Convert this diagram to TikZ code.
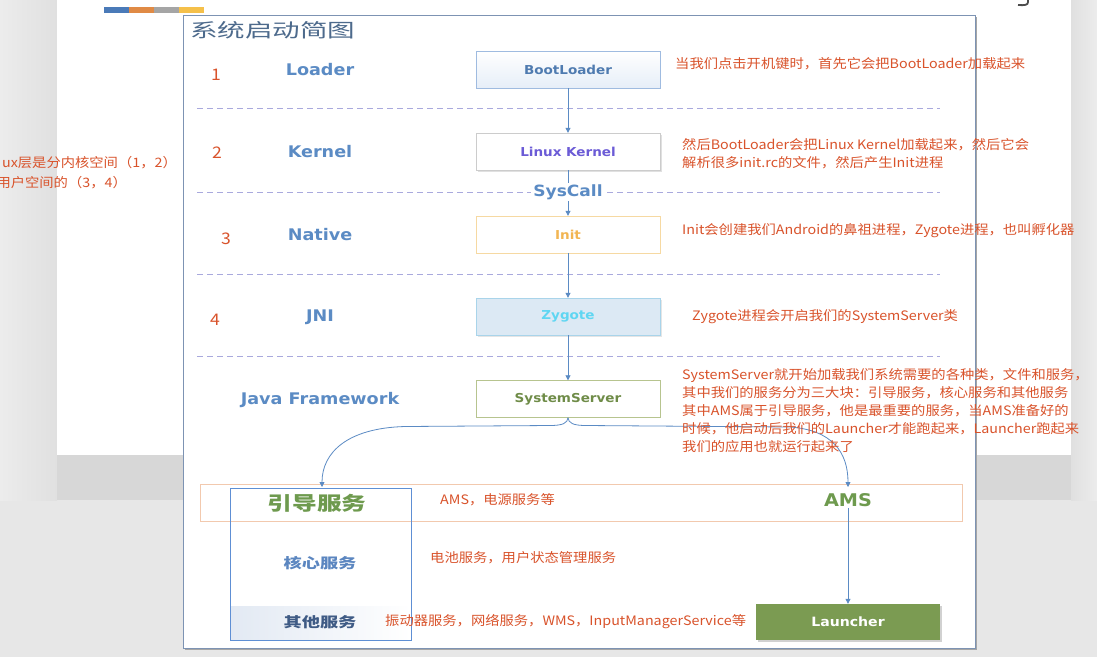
\documentclass[tikz,border=0pt]{standalone}
\usepackage{fontspec}
\setmainfont{Noto Sans CJK SC}[FakeStretch=1.1]
\newfontfamily\titlefont[FakeStretch=1.45]{Noto Sans CJK SC}
\newfontfamily\widecjk[FakeStretch=1.3]{Noto Sans CJK SC}
\newfontfamily\labfont[FakeStretch=1.1]{DejaVu Sans}
\usetikzlibrary{arrows.meta,calc}
\definecolor{redtxt}{HTML}{D9532B}
\definecolor{labblue}{HTML}{5B8BC4}
\definecolor{dashcol}{HTML}{A9A9DD}
\definecolor{framecol}{HTML}{7D93B3}
\definecolor{bggray}{HTML}{E7E7E7}
\definecolor{bgleft}{HTML}{ECECEC}
\definecolor{bgshadow}{HTML}{E0E0E0}
\definecolor{bandgray}{HTML}{D7D7D7}
\definecolor{titlecol}{HTML}{4D6A8C}
\definecolor{greentxt}{HTML}{6E9A4E}
\definecolor{launchgreen}{HTML}{7B9B52}
\definecolor{stripeA}{HTML}{4A7AB8}
\definecolor{stripeB}{HTML}{E08A45}
\definecolor{stripeC}{HTML}{A5A5A5}
\definecolor{stripeD}{HTML}{F5C04A}
\definecolor{bootdraw}{HTML}{9FBBE0}
\definecolor{bootfill}{HTML}{E6EEF8}
\definecolor{boottext}{HTML}{4F7BB0}
\definecolor{kerntext}{HTML}{6B5BD6}
\definecolor{initdraw}{HTML}{F6D9A2}
\definecolor{inittext}{HTML}{F2B552}
\definecolor{zygdraw}{HTML}{A9D4EA}
\definecolor{zygfill}{HTML}{DCE9F4}
\definecolor{zygtext}{HTML}{5FD6F2}
\definecolor{sysdraw}{HTML}{B7C48F}
\definecolor{systext}{HTML}{6F8C48}
\definecolor{banddraw}{HTML}{F2C9AE}
\definecolor{svcdraw}{HTML}{5E8FD4}
\definecolor{svcshade}{HTML}{E2E9F3}
\definecolor{hxtext}{HTML}{5B86C0}
\definecolor{qttext}{HTML}{3F5B85}
\tikzset{
  redtext/.style={text=redtxt, font=\fontsize{13}{18}\selectfont, anchor=west, inner sep=0pt, align=left},
  numtext/.style={text=redtxt, font=\fontsize{16}{18}\selectfont, inner sep=0pt},
  layer/.style={text=labblue, font=\labfont\bfseries\fontsize{16}{18}\selectfont, inner sep=0pt},
  stepbox/.style={minimum width=184pt, minimum height=37pt, inner sep=0pt, font=\labfont\bfseries\fontsize{12.3}{14}\selectfont},
  arr/.style={draw=labblue, line width=0.8pt, -{Triangle[length=5pt,width=5pt]}},
  sepline/.style={draw=dashcol, line width=0.8pt, dash pattern=on 6pt off 4pt},
}
\begin{document}
\begin{tikzpicture}[x=1pt,y=-1pt]
\useasboundingbox (0,0) rectangle (1097,657);
% background
\fill[bggray] (0,0) rectangle (1097,657);
\shade[left color=bgleft, right color=bgshadow] (0,0) rectangle (57,500);
\fill[white] (57,0) rectangle (1071,455);
\fill[bandgray] (57,455) rectangle (1071,500);
\shade[left color=bgshadow, right color=bgleft] (1071,0) rectangle (1097,500);
% top stripe
\fill[stripeA] (104,7) rectangle (129,12.5);
\fill[stripeB] (129,7) rectangle (154,12.5);
\fill[stripeC] (154,7) rectangle (179,12.5);
\fill[stripeD] (179,7) rectangle (204,12.5);
% cut-off glyph top right
\draw[line width=1.8pt, color=black!70] (1028,-1) -- (1028,2) .. controls (1028,5) and (1025,5.5) .. (1018,5);
% frame
\fill[black!35] (185,17) rectangle (977,650);
\draw[framecol, fill=white, line width=0.9pt] (183,15) rectangle (975,648);
% title
\node[text=titlecol, font=\titlefont\fontsize{19}{20}\selectfont, anchor=west, inner sep=0pt] (title) at (190,30) {系统启动简图};
% left clipped text
\node[redtext, anchor=east] (lt1) at (177,163) {ux层是分内核空间（1，2）};
\node[redtext, anchor=east] (lt2) at (127,183) {用户空间的（3，4）};
% separators
\draw[sepline] (197,108) -- (940,108);
\draw[sepline] (197,192) -- (940,192);
\draw[sepline] (197,274) -- (940,274);
\draw[sepline] (197,356) -- (940,356);
% numbers
\node[numtext] (n1) at (216,75) {1};
\node[numtext] (n2) at (217,153) {2};
\node[numtext] (n3) at (226,239) {3};
\node[numtext] (n4) at (215,320) {4};
% layer labels
\node[layer] (l1) at (320,70) {Loader};
\node[layer] (l2) at (320,152) {Kernel};
\node[layer] (l3) at (320,235) {Native};
\node[layer] (l4) at (320,317) {JNI};
\node[layer] (l5) at (320,400) {Java Framework};
% step boxes
\node[stepbox, draw=bootdraw, top color=white, bottom color=bootfill, text=boottext] (boot) at (568,69.5) {BootLoader};
\fill[black!12] (478,135) rectangle (662,172);
\node[stepbox, draw=black!20, fill=white, text=kerntext] (kernel) at (568,151.5) {Linux Kernel};
\node[stepbox, draw=initdraw, fill=white, text=inittext] (init) at (568,234.5) {Init};
\fill[black!10] (478,300) rectangle (662,337);
\node[stepbox, draw=zygdraw, fill=zygfill, text=zygtext] (zygote) at (568,316.5) {Zygote};
\node[stepbox, draw=sysdraw, fill=white, text=systext] (sys) at (568,399) {SystemServer};
% arrows
\draw[arr] (boot) -- (kernel);
\draw[arr] (kernel) -- (init);
\draw[arr] (init) -- (zygote);
\draw[arr] (zygote) -- (sys);
\node[text=labblue, font=\labfont\bfseries\fontsize{15.5}{18}\selectfont, fill=white, inner xsep=2pt, inner ysep=1pt] (syscall) at (568,192) {SysCall};
% bottom boxes
\node[draw=banddraw, line width=0.8pt, minimum width=762pt, minimum height=37pt, inner sep=0pt] (band) at (581,502.5) {};
\shade[left color=svcshade, right color=white] (230.5,606) rectangle (410.5,640);
\node[draw=svcdraw, line width=0.9pt, minimum width=181pt, minimum height=152pt, inner sep=0pt] (svc) at (320.5,564) {};
\coordinate (bl) at (322,487);
\coordinate (br) at (848,487);
% brace curves
\draw[arr] (sys.south) .. controls (567.5,423) and (563,425.5) .. (550,425.5) -- (405,426.5) .. controls (348,428) and (322,452) .. (bl);
\draw[arr] (sys.south) .. controls (568.5,423) and (573,425.5) .. (586,425.5) -- (790,427) .. controls (832,430) and (848,452) .. (br);
\node[text=greentxt, font=\widecjk\bfseries\fontsize{19}{20}\selectfont, inner sep=0pt] (yd) at (317,503) {引导服务};
\node[text=hxtext, font=\widecjk\bfseries\fontsize{14}{15}\selectfont, inner sep=0pt] (hx) at (320,563) {核心服务};
\node[text=qttext, font=\widecjk\bfseries\fontsize{14}{15}\selectfont, inner sep=0pt] (qt) at (320,622) {其他服务};
\node[text=greentxt, font=\labfont\bfseries\fontsize{17.5}{18}\selectfont, inner sep=1pt] (ams) at (848,500) {AMS};
\fill[black!18] (758,606) rectangle (942,642);
\node[minimum width=184pt, minimum height=36pt, inner sep=0pt, fill=launchgreen, text=white, font=\labfont\bfseries\fontsize{12.8}{14}\selectfont] (launcher) at (848,622) {Launcher};
\draw[arr] (ams.south) -- (launcher.north);
% descriptions
\node[redtext] (d1) at (675,64) {当我们点击开机键时，首先它会把BootLoader加载起来};
\node[redtext] (d2) at (682,154) {然后BootLoader会把Linux Kernel加载起来，然后它会\\解析很多init.rc的文件，然后产生Init进程};
\node[redtext] (d3) at (682,231) {Init会创建我们Android的鼻祖进程，Zygote进程，也叫孵化器};
\node[redtext] (d4) at (692,317) {Zygote进程会开启我们的SystemServer类};
\node[redtext] (d5) at (682,411) {SystemServer就开始加载我们系统需要的各种类，文件和服务，\\其中我们的服务分为三大块：引导服务，核心服务和其他服务\\其中AMS属于引导服务，他是最重要的服务，当AMS准备好的\\时候，他启动后我们的Launcher才能跑起来，Launcher跑起来\\我们的应用也就运行起来了};
\node[redtext] (d6) at (440,500) {AMS，电源服务等};
\node[redtext] (d7) at (430,558) {电池服务，用户状态管理服务};
\node[redtext] (d8) at (385,622) {振动器服务，网络服务，WMS，InputManagerService等};
\end{tikzpicture}
\end{document}
